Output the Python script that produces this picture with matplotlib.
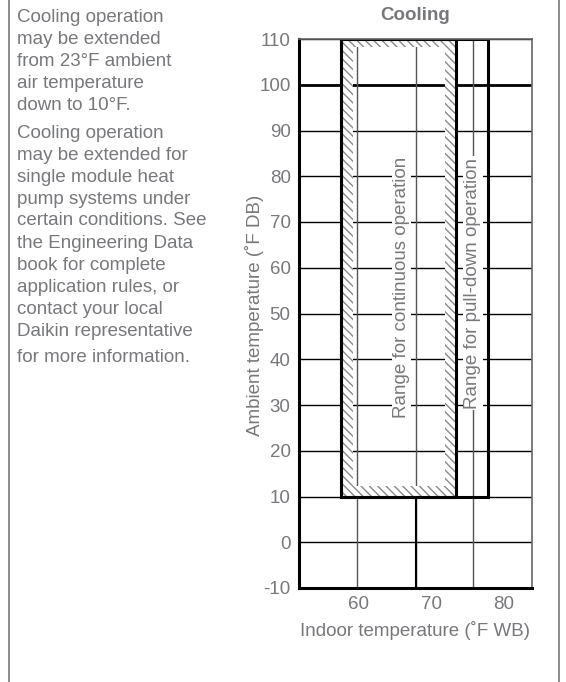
import matplotlib.pyplot as plt
from matplotlib.patches import Rectangle

plt.rcParams['font.family'] = ['Liberation Sans', 'DejaVu Sans']
plt.rcParams['hatch.linewidth'] = 1.0
plt.rcParams['axes.unicode_minus'] = False

GRAY = '#77787b'
FS = 13.5

# chart data
y_ticks = list(range(-10, 111, 10))
x_ticks = [60, 70, 80]
grid_x = [59.7, 67.9, 75.8]          # vertical grid lines of the original chart
cont_x = [57.5, 73.5]                # range for continuous operation (°F WB)
pull_x = [57.5, 77.9]                # range for pull-down operation (°F WB)
range_y = [10, 110]                  # ambient range (°F DB)

note1 = ["Cooling operation", "may be extended", "from 23°F ambient",
         "air temperature", "down to 10°F."]
note2 = ["Cooling operation", "may be extended for", "single module heat",
         "pump systems under", "certain conditions. See", "the Engineering Data",
         "book for complete", "application rules, or", "contact your local",
         "Daikin representative", "for more information."]

W, H = 566, 682
fig = plt.figure(figsize=(W / 100, H / 100), dpi=100)
ax = fig.add_axes([299 / W, 1 - 588 / H, 233 / W, 549 / H])

ax.set_xlim(51.7, 84.0)
ax.set_ylim(-10, 110)

# grid
for y in y_ticks:
    lw = 2.0 if y == 100 else 1.0
    ax.axhline(y, color='black', lw=lw, zorder=1)
for x in grid_x:
    ax.axvline(x, color='#555555', lw=1.0, zorder=1)
ax.plot([grid_x[1], grid_x[1]], [-10, range_y[0]], color='black', lw=1.5, zorder=1)

# hatched frame of the continuous range
cx0, cx1 = cont_x
y0, y1 = range_y
wl, wr, hb, ht = 1.7, 1.5, 2.2, 1.8
strips = [
    (cx0, y0, wl, y1 - y0),
    (cx1 - wr, y0, wr, y1 - y0),
    (cx0, y0, cx1 - cx0, hb),
    (cx0, y1 - ht, cx1 - cx0, ht),
]
for sx, sy, sw, sh in strips:
    ax.add_patch(Rectangle((sx, sy), sw, sh, facecolor='white', edgecolor='#8a8a8a',
                           hatch='\\\\\\\\', lw=0, zorder=2))

# range outlines
for xs in (pull_x, cont_x):
    ax.add_patch(Rectangle((xs[0], y0), xs[1] - xs[0], y1 - y0, fill=False,
                           edgecolor='black', lw=2.2, zorder=4))

# range labels
tkw = dict(rotation=90, ha='center', va='center', color=GRAY, fontsize=FS, zorder=3,
           bbox=dict(facecolor='white', edgecolor='none', pad=1.0))
ax.text(65.9, 55.7, "Range for continuous operation", **tkw)
ax.text(grid_x[2], 56.6, "Range for pull-down operation", **tkw)

# axes styling
ax.set_yticks(y_ticks)
ax.set_xticks(x_ticks)
ax.tick_params(length=0, labelsize=FS, labelcolor=GRAY)
ax.tick_params(axis='y', pad=6)
ax.tick_params(axis='x', pad=6)
for side in ('left', 'bottom'):
    ax.spines[side].set_linewidth(2.2)
    ax.spines[side].set_color('black')
for side in ('top', 'right'):
    ax.spines[side].set_linewidth(1.2)
    ax.spines[side].set_color('#666666')
for s in ax.spines.values():
    s.set_zorder(5)

fig.text(415 / W, 1 - 16 / H, "Cooling", fontsize=FS, fontweight='bold', color=GRAY,
         ha='center', va='center')
ax.set_ylabel("Ambient temperature (˚F DB)", fontsize=FS, color=GRAY, va='center')
ax.yaxis.set_label_coords((255 - 299) / 233, 0.497)
ax.set_xlabel("Indoor temperature (˚F WB)", fontsize=FS, color=GRAY, va='center')
ax.xaxis.set_label_coords(0.5, -(631 - 588) / 549)

# notes on the left
for i, line in enumerate(note1):
    fig.text(17 / W, 1 - (18 + i * 22) / H, line, fontsize=FS, color=GRAY, va='center')
for i, line in enumerate(note2):
    extra = 4 if i == len(note2) - 1 else 0
    fig.text(17 / W, 1 - (133 + i * 22 + extra) / H, line, fontsize=FS, color=GRAY,
             va='center')

# page frame lines
fig.add_artist(plt.Line2D([8.5 / W, 8.5 / W], [0, 1], color='#777777', lw=1.2))
fig.add_artist(plt.Line2D([559 / W, 559 / W], [0, 1], color='#777777', lw=1.2))

fig.savefig('out.png', dpi=100)
